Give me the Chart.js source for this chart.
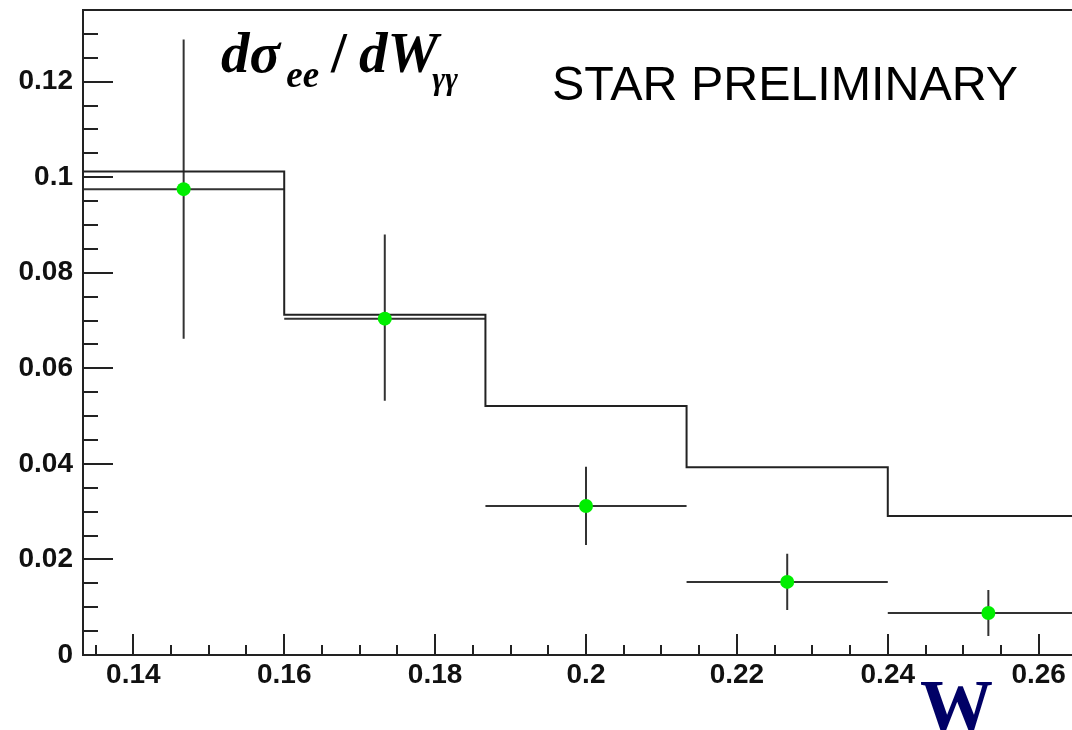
<!DOCTYPE html>
<html>
<head>
<meta charset="utf-8">
<script src="https://cdn.jsdelivr.net/npm/chart.js@4.4.0/dist/chart.umd.min.js"></script>
<style>
  html, body { margin:0; padding:0; background:#fff; overflow:hidden; }
  #wrap { position:relative; width:1100px; height:730px; }
  canvas { position:absolute; left:0; top:0; }
  .ann { position:absolute; white-space:nowrap; line-height:1; }
  #title { left:221px; top:24px; font-family:'Liberation Serif','Times New Roman',serif; font-weight:bold; font-style:italic; font-size:57px; color:#000; }
  #title .sb { position:relative; top:15px; font-size:37px; }
  #title .sl { font-style:normal; font-weight:bold; margin:0 12px 0 12px; }
  #title .g { top:17px; font-size:31px; margin-left:-6px; }
  #star { left:552px; top:59px; font-family:'Liberation Sans',Arial,sans-serif; font-size:48.4px; color:#000; }
  #wlab { left:920px; top:670px; font-family:'Liberation Serif','Times New Roman',serif; font-weight:bold; font-size:73px; color:#000066; }
</style>
</head>
<body>
<div id="wrap">
  <canvas id="c" width="1100" height="730"></canvas>
  <div class="ann" id="title">dσ<span class="sb" style="margin-left:6px">ee</span><span class="sl">/</span>dW<span class="sb g">γγ</span></div>
  <div class="ann" id="star">STAR PRELIMINARY</div>
  <div class="ann" id="wlab">W</div>
</div>
<script>
// ---- data ----
const binEdges = [0.13333, 0.16, 0.18667, 0.21333, 0.24, 0.26667];
const histValues = [0.1012, 0.0712, 0.0521, 0.0393, 0.0291];
const pointX = [0.14667, 0.17333, 0.2, 0.22667, 0.25333];
const pointY = [0.0975, 0.0704, 0.0312, 0.0153, 0.0088];
const pointXLow = [0.13333, 0.16, 0.18667, 0.21333, 0.24];
const pointXHigh = [0.16, 0.18667, 0.21333, 0.24, 0.26667];
const pointYLow = [0.0662, 0.0532, 0.0230, 0.0094, 0.0040];
const pointYHigh = [0.1288, 0.0880, 0.0394, 0.0212, 0.0136];
const xTickValues = [0.14, 0.16, 0.18, 0.2, 0.22, 0.24, 0.26];
const xTickLabels = ['0.14', '0.16', '0.18', '0.2', '0.22', '0.24', '0.26'];
const yTickValues = [0, 0.02, 0.04, 0.06, 0.08, 0.1, 0.12];
const yTickLabels = ['0', '0.02', '0.04', '0.06', '0.08', '0.1', '0.12'];
const xMin = 0.13333, xMax = 0.26667, yMin = 0, yMax = 0.135;
const minorStep = 0.005;

// histogram as step line
const histData = binEdges.map((e, i) => ({ x: e, y: histValues[Math.min(i, histValues.length - 1)] }));
const pts = pointX.map((x, i) => ({ x: x, y: pointY[i] }));

const LINE = '#222';

const framePlugin = {
  id: 'frameTicks',
  beforeDatasetsDraw(chart) {
    const ctx = chart.ctx, xs = chart.scales.x, ys = chart.scales.y;
    ctx.save();
    ctx.strokeStyle = '#333';
    ctx.lineWidth = 2;
    for (let i = 0; i < pointX.length; i++) {
      const px = xs.getPixelForValue(pointX[i]);
      const py = ys.getPixelForValue(pointY[i]);
      ctx.beginPath();
      ctx.moveTo(xs.getPixelForValue(pointXLow[i]), py);
      ctx.lineTo(xs.getPixelForValue(pointXHigh[i]), py);
      ctx.moveTo(px, ys.getPixelForValue(pointYLow[i]));
      ctx.lineTo(px, ys.getPixelForValue(pointYHigh[i]));
      ctx.stroke();
    }
    ctx.restore();
  },
  afterDraw(chart) {
    const ctx = chart.ctx, xs = chart.scales.x, ys = chart.scales.y, a = chart.chartArea;
    ctx.save();
    ctx.strokeStyle = LINE;
    ctx.lineWidth = 2;
    ctx.strokeRect(a.left, a.top, a.right - a.left, a.bottom - a.top);
    ctx.beginPath();
    for (let k = 0; ; k++) {
      const v = yMin + k * minorStep;
      if (v > yMax + 1e-9) break;
      const major = yTickValues.some(t => Math.abs(t - v) < 1e-9);
      const py = Math.round(ys.getPixelForValue(v));
      ctx.moveTo(a.left, py);
      ctx.lineTo(a.left + (major ? 30 : 15), py);
    }
    for (let k = 0; ; k++) {
      const v = 0.135 + k * minorStep;
      if (v > xMax + 1e-9) break;
      const major = xTickValues.some(t => Math.abs(t - v) < 1e-9);
      const px = Math.round(xs.getPixelForValue(v));
      ctx.moveTo(px, a.bottom);
      ctx.lineTo(px, a.bottom - (major ? 21 : 10));
    }
    ctx.stroke();
    ctx.restore();
  }
};

new Chart(document.getElementById('c'), {
  data: {
    datasets: [
      {
        type: 'line',
        data: histData,
        stepped: 'before',
        borderColor: LINE,
        borderWidth: 2,
        pointRadius: 0,
        fill: false,
        order: 2
      },
      {
        type: 'scatter',
        data: pts,
        pointRadius: 7,
        pointBackgroundColor: '#00ee00',
        pointBorderWidth: 0,
        borderColor: '#00ee00',
        order: 1
      }
    ]
  },
  options: {
    responsive: false,
    animation: false,
    devicePixelRatio: 1,
    layout: { padding: { left: 0, top: 10, right: 11, bottom: 0 } },
    plugins: { legend: { display: false }, tooltip: { enabled: false } },
    scales: {
      x: {
        type: 'linear',
        min: xMin, max: xMax,
        grid: { display: false, drawTicks: false },
        border: { display: false },
        afterBuildTicks: s => { s.ticks = xTickValues.map(v => ({ value: v })); },
        afterFit: s => { s.height = 75; s.paddingLeft = 0; s.paddingRight = 0; },
        ticks: {
          autoSkip: false, maxRotation: 0, padding: 3,
          color: '#111',
          font: { family: "'Liberation Sans', Arial, sans-serif", size: 28, weight: 'bold' },
          callback: (v, i) => xTickLabels[i]
        }
      },
      y: {
        type: 'linear',
        min: yMin, max: yMax,
        grid: { display: false, drawTicks: false },
        border: { display: false },
        afterBuildTicks: s => { s.ticks = yTickValues.map(v => ({ value: v })); },
        afterFit: s => { s.width = 83; s.paddingTop = 0; s.paddingBottom = 0; },
        ticks: {
          autoSkip: false, padding: 10,
          color: '#111',
          font: { family: "'Liberation Sans', Arial, sans-serif", size: 28, weight: 'bold' },
          callback: (v, i) => yTickLabels[i]
        }
      }
    }
  },
  plugins: [framePlugin]
});
</script>
</body>
</html>
